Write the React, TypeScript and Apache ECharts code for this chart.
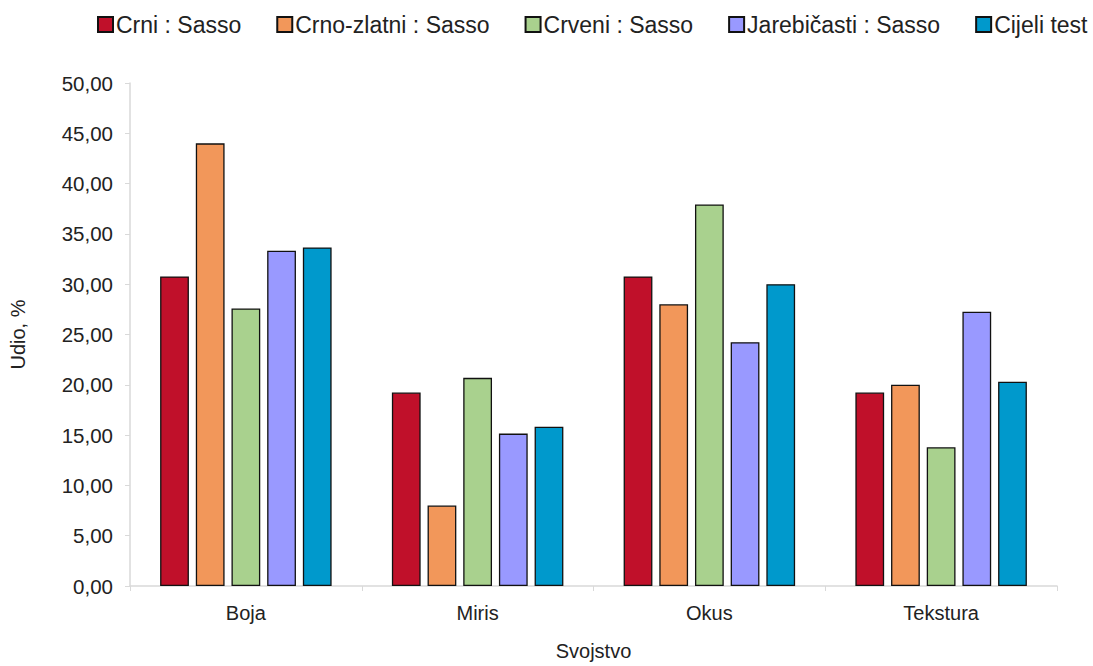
import React, { useEffect, useRef } from "react";
import * as echarts from "echarts";

const categories = ["Boja", "Miris", "Okus", "Tekstura"];
const seriesNames = ["Crni : Sasso", "Crno-zlatni : Sasso", "Crveni : Sasso", "Jarebičasti : Sasso", "Cijeli test"];
const crni = [30.77, 19.23, 30.77, 19.23];
const crnoZlatni = [44.0, 8.0, 28.0, 20.0];
const crveni = [27.59, 20.69, 37.93, 13.79];
const jarebicasti = [33.33, 15.15, 24.24, 27.27];
const cijeli = [33.66, 15.84, 30.0, 20.3];
const colors = ["#C0102A", "#F2975A", "#A9D18E", "#9999FF", "#0099CC"];

export default function App() {
  const ref = useRef<HTMLDivElement>(null);
  useEffect(() => {
    if (!ref.current) return;
    const chart = echarts.init(ref.current, null, { renderer: "svg" });
    const data = [crni, crnoZlatni, crveni, jarebicasti, cijeli];
    const font = "Liberation Sans, Arial, sans-serif";
    chart.setOption({
      animation: false,
      textStyle: { fontFamily: font },
      legend: {
        top: 13,
        left: 97,
        width: 996,
        padding: 0,
        itemWidth: 15,
        itemHeight: 15,
        itemGap: 35,
        icon: "rect",
        textStyle: { fontSize: 23, color: "#222", fontFamily: font, padding: [0, 0, 0, -2] },
        data: seriesNames,
      },
      grid: { left: 126, top: 83, width: 931, height: 517, containLabel: false },
      xAxis: {
        type: "category",
        data: categories,
        name: "Svojstvo",
        nameLocation: "middle",
        nameGap: 55,
        nameTextStyle: { fontSize: 20, color: "#222", fontFamily: font },
        axisLine: { lineStyle: { color: "#d9d9d9", width: 1.5 } },
        axisTick: { show: true, alignWithLabel: false, length: 5, lineStyle: { color: "#d9d9d9" } },
        axisLabel: { fontSize: 20, color: "#222", margin: 17, fontFamily: font },
      },
      yAxis: {
        type: "value",
        min: 0,
        max: 50,
        interval: 5,
        name: "Udio, %",
        nameLocation: "middle",
        nameGap: 102,
        nameTextStyle: { fontSize: 20, color: "#222", fontFamily: font },
        axisLine: { show: true, lineStyle: { color: "#d9d9d9", width: 1.5 } },
        axisTick: { show: true, length: 5, lineStyle: { color: "#d9d9d9" } },
        splitLine: { show: false },
        axisLabel: {
          fontSize: 20.5,
          color: "#222",
          margin: 17,
          fontFamily: font,
          formatter: (v: number) => v.toFixed(2).replace(".", ","),
        },
      },
      series: seriesNames.map((name, i) => ({
        name,
        type: "bar",
        data: data[i],
        barGap: "24%",
        barCategoryGap: "26%",
        itemStyle: { color: colors[i], borderColor: "#111", borderWidth: 1.3 },
      })),
    });
    return () => chart.dispose();
  }, []);
  return <div ref={ref} style={{ position: "absolute", left: 0, top: 0, width: 1093, height: 666 }} />;
}
